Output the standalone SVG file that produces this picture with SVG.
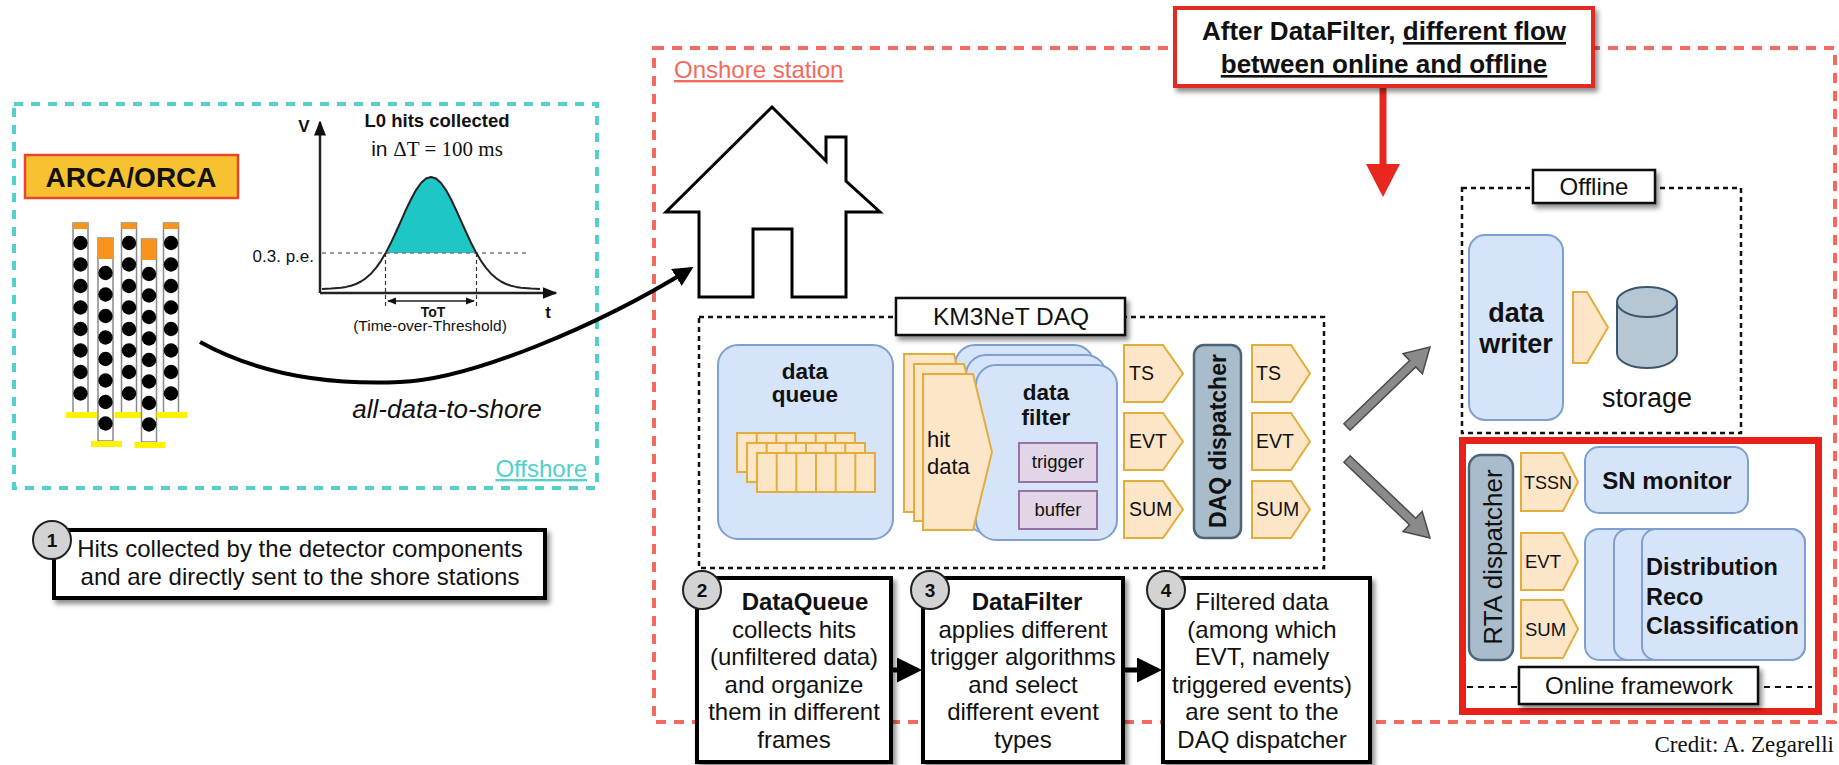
<svg xmlns="http://www.w3.org/2000/svg" width="1839" height="765" viewBox="0 0 1839 765">
<style>
  text { font-family: "Liberation Sans", Arial, sans-serif; fill: #111; }
  .b { font-weight: bold; }
  .mid { text-anchor: middle; }
  .serif { font-family: "Liberation Serif", "Times New Roman", serif; }
  .blue { fill: #d6e4fa; stroke: #7f9fd0; stroke-width: 2; }
  .orange { fill: #fde5c8; stroke: #e3ad3c; stroke-width: 2; }
  .purple { fill: #e1d5e7; stroke: #9673a6; stroke-width: 2; }
  .disp { fill: #a9bccb; stroke: #4b6478; stroke-width: 2.5; }
  .label { fill: #fff; stroke: #111; stroke-width: 2.5; }
  .step { fill: #fff; stroke: #000; stroke-width: 4; }
  .num { fill: #d3d3d3; stroke: #222; stroke-width: 2; }
  .dots { fill: none; stroke: #111; stroke-width: 2.5; stroke-dasharray: 5 4; }
  .grayarrow { fill: #8a8a8a; stroke: #4a4a4a; stroke-width: 1.5; }
  .rail { fill: #fff; stroke: #8a8a8a; stroke-width: 1.5; }
  .ball { fill: #000; }
  .steptext { font-size: 24px; text-anchor: middle; }
</style>
<defs>
  <filter id="shadow" x="-10%" y="-20%" width="130%" height="160%">
    <feDropShadow dx="3" dy="4" stdDeviation="2.5" flood-color="#000" flood-opacity="0.45"/>
  </filter>
  <marker id="head" viewBox="0 0 10 10" refX="8" refY="5" markerWidth="5" markerHeight="5" orient="auto-start-reverse">
    <path d="M0,0 L10,5 L0,10 z" fill="#000"/>
  </marker>
  <marker id="smallhead" viewBox="0 0 10 10" refX="9" refY="5" markerWidth="6" markerHeight="6" orient="auto-start-reverse">
    <path d="M0,1 L10,5 L0,9 z" fill="#111"/>
  </marker>
  <!-- detection string with short top module -->
  <g id="stringA">
    <rect class="rail" x="0" y="0" width="15" height="190"/>
    <rect x="0" y="0" width="15" height="6" fill="#f7941d"/>
    <circle class="ball" cx="7.5" cy="20" r="7.2"/>
    <circle class="ball" cx="7.5" cy="41.5" r="7.2"/>
    <circle class="ball" cx="7.5" cy="63" r="7.2"/>
    <circle class="ball" cx="7.5" cy="84.5" r="7.2"/>
    <circle class="ball" cx="7.5" cy="106" r="7.2"/>
    <circle class="ball" cx="7.5" cy="127.5" r="7.2"/>
    <circle class="ball" cx="7.5" cy="149" r="7.2"/>
    <circle class="ball" cx="7.5" cy="170.5" r="7.2"/>
    <rect x="-7" y="189" width="31" height="6" fill="#fff200"/>
  </g>
  <!-- detection string with tall top module -->
  <g id="stringB">
    <rect class="rail" x="0" y="0" width="15" height="203"/>
    <rect x="0" y="0" width="15" height="21" fill="#f7941d"/>
    <circle class="ball" cx="7.5" cy="35" r="7.2"/>
    <circle class="ball" cx="7.5" cy="56.5" r="7.2"/>
    <circle class="ball" cx="7.5" cy="78" r="7.2"/>
    <circle class="ball" cx="7.5" cy="99.5" r="7.2"/>
    <circle class="ball" cx="7.5" cy="121" r="7.2"/>
    <circle class="ball" cx="7.5" cy="142.5" r="7.2"/>
    <circle class="ball" cx="7.5" cy="164" r="7.2"/>
    <circle class="ball" cx="7.5" cy="185.5" r="7.2"/>
    <rect x="-7" y="203" width="31" height="6" fill="#fff200"/>
  </g>
</defs>

<rect width="1839" height="765" fill="#fff"/>

<!-- Onshore station frame -->
<g id="onshore">
  <rect x="654" y="48" width="1181" height="674" fill="none" stroke="#f26a5e" stroke-width="4" stroke-dasharray="10 8"/>
  <text x="674" y="78" font-size="24" style="fill:#f26a5e;text-decoration:underline">Onshore station</text>
</g>

<!-- Offshore frame -->
<g id="offshore">
  <rect x="14" y="104" width="583" height="384" fill="none" stroke="#52d0cb" stroke-width="4" stroke-dasharray="9 8"/>
  <text x="587" y="477" font-size="24" text-anchor="end" style="fill:#52d0cb;text-decoration:underline">Offshore</text>
</g>

<!-- Detector -->
<g id="arca-orca">
  <rect x="25" y="155" width="213" height="43" fill="#f7c232" stroke="#e8452c" stroke-width="2.5"/>
  <text x="131" y="187" font-size="28" class="b mid">ARCA/ORCA</text>
</g>
<g id="detector-strings">
  <use href="#stringA" transform="translate(73,223)"/>
  <use href="#stringB" transform="translate(98,238)"/>
  <use href="#stringA" transform="translate(121.5,223)"/>
  <use href="#stringB" transform="translate(141.5,239)"/>
  <use href="#stringA" transform="translate(163.5,223)"/>
</g>

<!-- Time-over-threshold plot -->
<g id="tot-plot">
  <polygon fill="#1fc6c6" points="385.5,253 391,242.7 396,232 401,220.8 406,209.7 411,199.2 416,190.1 421,183 426,178.5 431,177 436,178.5 441,183 446,190.1 451,199.2 456,209.7 461,220.8 466,232 471,242.7 476.5,253"/>
  <line x1="322" y1="253" x2="526" y2="253" stroke="#777" stroke-width="1.5" stroke-dasharray="4 4"/>
  <line x1="385.5" y1="253" x2="385.5" y2="306" stroke="#333" stroke-width="1.2" stroke-dasharray="4 3"/>
  <line x1="476.5" y1="253" x2="476.5" y2="306" stroke="#333" stroke-width="1.2" stroke-dasharray="4 3"/>
  <polyline fill="none" stroke="#222" stroke-width="2" stroke-linejoin="round" points="322,289 331,288.5 341,287.7 346,286.9 351,285.7 356,284 361,281.5 366,278.1 371,273.7 376,267.9 381,260.8 386,252.4 391,242.7 396,232 401,220.8 406,209.7 411,199.2 416,190.1 421,183 426,178.5 431,177 436,178.5 441,183 446,190.1 451,199.2 456,209.7 461,220.8 466,232 471,242.7 476,252.4 481,260.8 486,267.9 491,273.7 496,278.1 501,281.5 506,284 511,285.7 516,286.9 521,287.7 531,288.5 540,289"/>
  <line x1="320" y1="293" x2="320" y2="122" stroke="#222" stroke-width="2.5" marker-end="url(#smallhead)"/>
  <line x1="320" y1="293" x2="556" y2="293" stroke="#222" stroke-width="2.5" marker-end="url(#smallhead)"/>
  <line x1="388" y1="301" x2="474" y2="301" stroke="#222" stroke-width="1.5" marker-start="url(#smallhead)" marker-end="url(#smallhead)"/>
  <text x="304" y="132" font-size="17" class="b mid">V</text>
  <text x="548" y="318" font-size="17" class="b mid">t</text>
  <text x="314" y="262" font-size="17" text-anchor="end" fill="#333">0.3. p.e.</text>
  <text x="433" y="317" font-size="14" class="b mid">ToT</text>
  <text x="430" y="331" font-size="15.5" class="mid" fill="#333">(Time-over-Threshold)</text>
  <text x="437" y="127" font-size="18.5" class="b mid">L0 hits collected</text>
  <text x="437" y="156" font-size="21" class="mid">in <tspan class="serif">ΔT = 100 ms</tspan></text>
</g>

<text x="447" y="418" font-size="26" font-style="italic" class="mid" fill="#222">all-data-to-shore</text>

<!-- House -->
<g id="house">
  <path d="M772,107 L826,161 L826,137 L846,137 L846,181 L880,212 L846,212 L846,297 L792,297 L792,229 L753,229 L753,297 L699,297 L699,212 L666,212 Z" fill="#fff" stroke="#000" stroke-width="3" stroke-linejoin="miter"/>
</g>

<!-- KM3NeT DAQ -->
<g id="km3net-daq">
  <rect class="dots" x="699" y="317" width="625" height="251"/>

  <g id="data-queue">
    <rect class="blue" x="718" y="345" width="175" height="194" rx="20"/>
    <text x="805" y="379" font-size="22.5" class="b mid">data</text>
    <text x="805" y="402" font-size="22.5" class="b mid">queue</text>
    <g class="orange">
      <rect x="737" y="433" width="118" height="39"/>
      <rect x="747" y="443" width="118" height="39"/>
      <rect x="757" y="453" width="118" height="39"/>
    </g>
    <g stroke="#e3ad3c" stroke-width="2">
      <line x1="756.7" y1="433" x2="756.7" y2="443"/>
      <line x1="776.3" y1="433" x2="776.3" y2="443"/>
      <line x1="796" y1="433" x2="796" y2="443"/>
      <line x1="815.7" y1="433" x2="815.7" y2="443"/>
      <line x1="835.3" y1="433" x2="835.3" y2="443"/>
      <line x1="766.7" y1="443" x2="766.7" y2="453"/>
      <line x1="786.3" y1="443" x2="786.3" y2="453"/>
      <line x1="806" y1="443" x2="806" y2="453"/>
      <line x1="825.7" y1="443" x2="825.7" y2="453"/>
      <line x1="845.3" y1="443" x2="845.3" y2="453"/>
      <line x1="776.7" y1="453" x2="776.7" y2="492"/>
      <line x1="796.3" y1="453" x2="796.3" y2="492"/>
      <line x1="816" y1="453" x2="816" y2="492"/>
      <line x1="835.7" y1="453" x2="835.7" y2="492"/>
      <line x1="855.3" y1="453" x2="855.3" y2="492"/>
    </g>
  </g>

  <g id="data-filter">
    <rect class="blue" x="955" y="345" width="139" height="175" rx="20"/>
    <rect class="blue" x="966" y="355" width="140" height="178" rx="20"/>
    <rect class="blue" x="976" y="365" width="141" height="175" rx="20"/>
    <polygon class="orange" points="904,354 954,354 973,433 954,512 904,512"/>
    <polygon class="orange" points="914,364 964,364 983,443 964,521 914,521"/>
    <polygon class="orange" points="923,374 973,374 992,452 973,530 923,530"/>
    <text x="927" y="447" font-size="22">hit</text>
    <text x="927" y="474" font-size="22">data</text>
    <text x="1046" y="400" font-size="22.5" class="b mid">data</text>
    <text x="1046" y="425" font-size="22.5" class="b mid">filter</text>
    <rect class="purple" x="1019" y="443" width="78" height="39"/>
    <text x="1058" y="468" font-size="18.5" class="mid" fill="#333">trigger</text>
    <rect class="purple" x="1019" y="491" width="78" height="38"/>
    <text x="1058" y="516" font-size="18.5" class="mid" fill="#333">buffer</text>
  </g>

  <g id="daq-streams-in">
    <polygon class="orange" points="1124,345 1163,345 1183,373.5 1163,402 1124,402"/>
    <polygon class="orange" points="1124,413 1163,413 1183,441.5 1163,470 1124,470"/>
    <polygon class="orange" points="1124,481 1163,481 1183,509.5 1163,538 1124,538"/>
    <text x="1129" y="380" font-size="19.5">TS</text>
    <text x="1129" y="448" font-size="19.5">EVT</text>
    <text x="1129" y="516" font-size="19.5">SUM</text>
  </g>

  <g id="daq-dispatcher">
    <rect class="disp" x="1194" y="345" width="47" height="193" rx="10"/>
    <text transform="translate(1226,441) rotate(-90)" font-size="23" class="b mid">DAQ dispatcher</text>
  </g>

  <g id="daq-streams-out">
    <polygon class="orange" points="1252,345 1291,345 1310,373.5 1291,402 1252,402"/>
    <polygon class="orange" points="1252,413 1291,413 1310,441.5 1291,470 1252,470"/>
    <polygon class="orange" points="1252,481 1291,481 1310,509.5 1291,538 1252,538"/>
    <text x="1256" y="380" font-size="19.5">TS</text>
    <text x="1256" y="448" font-size="19.5">EVT</text>
    <text x="1256" y="516" font-size="19.5">SUM</text>
  </g>

  <g id="daq-label">
    <rect class="label" x="896" y="298" width="229" height="37" filter="url(#shadow)"/>
    <text x="1011" y="325" font-size="24.5" class="mid">KM3NeT DAQ</text>
  </g>
</g>

<!-- Offline branch -->
<g id="offline">
  <rect class="dots" x="1462" y="188" width="279" height="245"/>
  <rect class="label" x="1533" y="170" width="122" height="33" filter="url(#shadow)"/>
  <text x="1594" y="195" font-size="24" class="mid">Offline</text>
  <g id="data-writer">
    <rect class="blue" x="1469" y="235" width="94" height="185" rx="16"/>
    <text x="1516" y="322" font-size="27" class="b mid">data</text>
    <text x="1516" y="353" font-size="27" class="b mid">writer</text>
  </g>
  <polygon class="orange" points="1573,292 1587,292 1608,327.5 1587,363 1573,363"/>
  <g id="storage">
    <path d="M1617,302 L1617,353 A30,15 0 0 0 1677,353 L1677,302" fill="#b6c6d3" stroke="#3b566b" stroke-width="2"/>
    <ellipse cx="1647" cy="302" rx="30" ry="15" fill="#b6c6d3" stroke="#3b566b" stroke-width="2"/>
    <text x="1647" y="407" font-size="27" class="mid" fill="#333">storage</text>
  </g>
</g>

<!-- Online branch -->
<g id="online">
  <rect x="1462.5" y="440.5" width="356" height="271" fill="none" stroke="#e8201a" stroke-width="7"/>
  <line x1="1467" y1="687" x2="1812" y2="687" stroke="#111" stroke-width="2" stroke-dasharray="6 5"/>
  <g id="rta-dispatcher">
    <rect class="disp" x="1469" y="455" width="44" height="205" rx="12"/>
    <text transform="translate(1502,557) rotate(-90)" font-size="26" class="mid">RTA dispatcher</text>
  </g>
  <polygon class="orange" points="1521,453 1563,453 1578,482 1563,511 1521,511"/>
  <polygon class="orange" points="1521,533 1563,533 1578,561.5 1563,590 1521,590"/>
  <polygon class="orange" points="1521,600 1563,600 1578,629 1563,658 1521,658"/>
  <text x="1524" y="489" font-size="18">TSSN</text>
  <text x="1525" y="568" font-size="18.5">EVT</text>
  <text x="1525" y="636" font-size="18.5">SUM</text>
  <g id="sn-monitor">
    <rect class="blue" x="1585" y="447" width="163" height="66" rx="14"/>
    <text x="1667" y="489" font-size="24" class="b mid">SN monitor</text>
  </g>
  <g id="analysis">
    <rect class="blue" x="1585" y="529" width="220" height="131" rx="14"/>
    <rect class="blue" x="1614" y="529" width="191" height="131" rx="14"/>
    <rect class="blue" x="1642" y="529" width="163" height="131" rx="14"/>
    <text x="1646" y="575" font-size="23.5" class="b">Distribution</text>
    <text x="1646" y="605" font-size="23.5" class="b">Reco</text>
    <text x="1646" y="634" font-size="23.5" class="b">Classification</text>
  </g>
  <rect class="label" x="1519" y="667" width="239" height="37" filter="url(#shadow)"/>
  <text x="1639" y="694" font-size="24" class="mid">Online framework</text>
</g>

<!-- Connectors -->
<g id="connectors">
  <path d="M200,342 C260,375 330,385 400,382 C470,380 600,325 690,269" fill="none" stroke="#000" stroke-width="4" marker-end="url(#head)"/>
  <polygon class="grayarrow" points="1343.9,423.8 1409.6,360.5 1403,353.6 1430,347 1422.4,373.8 1415.8,366.9 1350.1,430.2"/>
  <polygon class="grayarrow" points="1350.1,455.7 1415.7,518.2 1422.2,511.4 1430,538 1403,531.6 1409.5,524.8 1343.9,462.3"/>
  <rect x="1379.5" y="84" width="7" height="82" fill="#e8281e"/>
  <polygon points="1366,164 1400,164 1383,197" fill="#e8281e"/>
  <line x1="891" y1="670" x2="917" y2="670" stroke="#000" stroke-width="5" marker-end="url(#head)"/>
  <line x1="1123" y1="670" x2="1157" y2="670" stroke="#000" stroke-width="5" marker-end="url(#head)"/>
</g>

<!-- Callout -->
<g id="callout">
  <rect x="1175" y="8" width="418" height="78" fill="#fff" stroke="#e02a20" stroke-width="4" filter="url(#shadow)"/>
  <text x="1384" y="40" font-size="26" class="b mid">After DataFilter, <tspan style="text-decoration:underline">different flow</tspan></text>
  <text x="1384" y="73" font-size="26" class="b mid" style="text-decoration:underline">between online and offline</text>
</g>

<!-- Step 1 -->
<g id="step1">
  <rect class="step" x="54" y="530" width="491" height="68" filter="url(#shadow)"/>
  <circle class="num" cx="52" cy="540" r="19"/>
  <text x="52" y="547" font-size="19" class="b mid">1</text>
  <text x="300" y="557" class="steptext">Hits collected by the detector components</text>
  <text x="300" y="585" class="steptext">and are directly sent to the shore stations</text>
</g>

<!-- Step 2 -->
<g id="step2">
  <rect class="step" x="697" y="578" width="194" height="184" filter="url(#shadow)"/>
  <circle class="num" cx="702" cy="590" r="19"/>
  <text x="702" y="597" font-size="19" class="b mid">2</text>
  <text x="805" y="610" class="steptext b">DataQueue</text>
  <text x="794" y="637.5" class="steptext">collects hits</text>
  <text x="794" y="665" class="steptext">(unfiltered data)</text>
  <text x="794" y="692.5" class="steptext">and organize</text>
  <text x="794" y="720" class="steptext">them in different</text>
  <text x="794" y="747.5" class="steptext">frames</text>
</g>

<!-- Step 3 -->
<g id="step3">
  <rect class="step" x="923" y="578" width="200" height="184" filter="url(#shadow)"/>
  <circle class="num" cx="930" cy="590" r="19"/>
  <text x="930" y="597" font-size="19" class="b mid">3</text>
  <text x="1027" y="610" class="steptext b">DataFilter</text>
  <text x="1023" y="637.5" class="steptext">applies different</text>
  <text x="1023" y="665" class="steptext">trigger algorithms</text>
  <text x="1023" y="692.5" class="steptext">and select</text>
  <text x="1023" y="720" class="steptext">different event</text>
  <text x="1023" y="747.5" class="steptext">types</text>
</g>

<!-- Step 4 -->
<g id="step4">
  <rect class="step" x="1163" y="578" width="207" height="184" filter="url(#shadow)"/>
  <circle class="num" cx="1166" cy="590" r="19"/>
  <text x="1166" y="597" font-size="19" class="b mid">4</text>
  <text x="1262" y="610" class="steptext">Filtered data</text>
  <text x="1262" y="637.5" class="steptext">(among which</text>
  <text x="1262" y="665" class="steptext">EVT, namely</text>
  <text x="1262" y="692.5" class="steptext">triggered events)</text>
  <text x="1262" y="720" class="steptext">are sent to the</text>
  <text x="1262" y="747.5" class="steptext">DAQ dispatcher</text>
</g>

<text x="1834" y="752" font-size="23" text-anchor="end" class="serif" fill="#111">Credit: A. Zegarelli</text>
</svg>
